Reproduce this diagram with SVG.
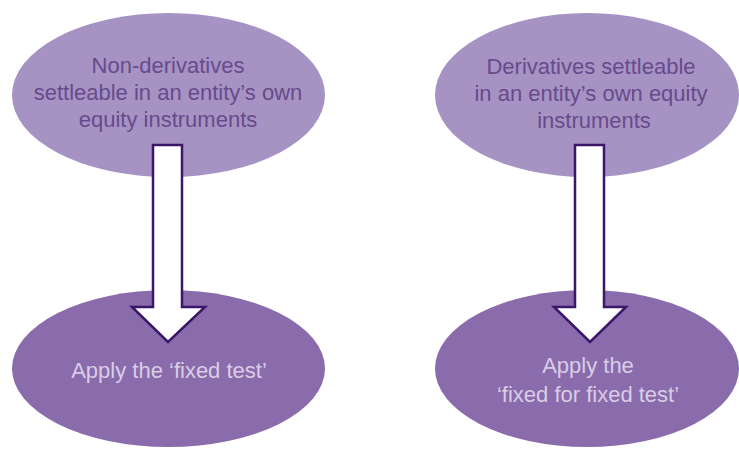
<svg xmlns="http://www.w3.org/2000/svg" width="739" height="453" viewBox="0 0 739 453">
  <style>
    .top { fill: #a693c3; }
    .bot { fill: #8a6bab; }
    .t { font-family: "Liberation Sans", Arial, sans-serif; font-size: 22px; text-anchor: middle; }
    .tt { fill: #684a8d; }
    .bt { fill: #d9cde6; }
    .arrow { fill: #ffffff; stroke: #3b176b; stroke-width: 2.5; stroke-linejoin: miter; }
  </style>
  <rect width="739" height="453" fill="#ffffff"/>
  <g id="node-nonderiv">
    <ellipse class="top" cx="168.5" cy="95" rx="156.5" ry="82"/>
    <text class="t tt" x="168" y="73">Non-derivatives</text>
    <text class="t tt" x="168" y="100">settleable in an entity’s own</text>
    <text class="t tt" x="168" y="127">equity instruments</text>
  </g>
  <g id="node-deriv">
    <ellipse class="top" cx="587" cy="95" rx="152" ry="82"/>
    <text class="t tt" x="591" y="74">Derivatives settleable</text>
    <text class="t tt" x="591" y="101">in an entity’s own equity</text>
    <text class="t tt" x="594" y="128">instruments</text>
  </g>
  <g id="node-fixed">
    <ellipse class="bot" cx="168.5" cy="368.5" rx="156.5" ry="78.5"/>
    <text class="t bt" x="169" y="378">Apply the ‘fixed test’</text>
  </g>
  <g id="node-fixedfixed">
    <ellipse class="bot" cx="587" cy="368.5" rx="152" ry="78.5"/>
    <text class="t bt" x="588" y="373">Apply the</text>
    <text class="t bt" x="588" y="402">‘fixed for fixed test’</text>
  </g>
  <g id="connectors">
    <path class="arrow" d="M153 145 H182 V307 H205 L168 342 L132 307 H153 Z"/>
    <path class="arrow" d="M575 145 H604 V307 H626 L590 342 L554 307 H575 Z"/>
  </g>
</svg>
